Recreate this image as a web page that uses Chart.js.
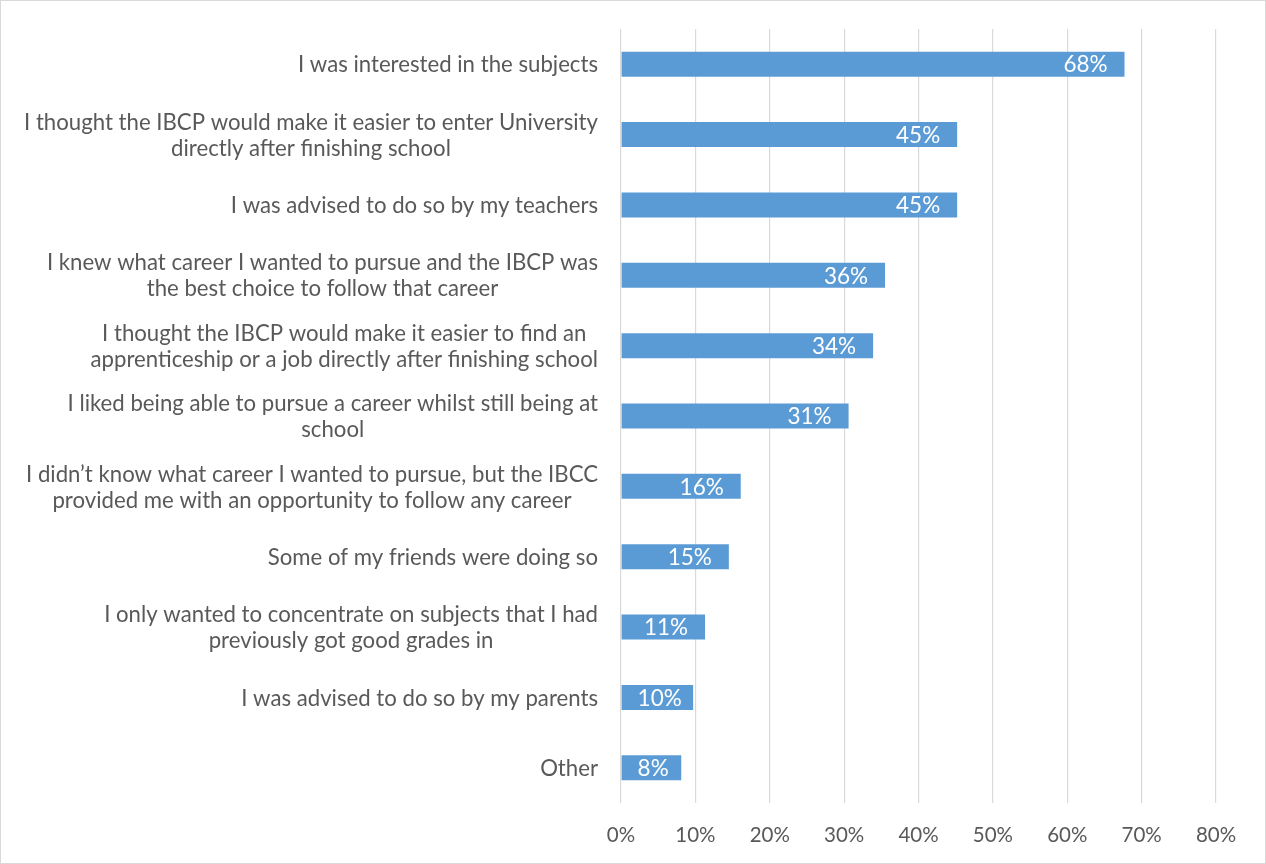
<!DOCTYPE html>
<html>
<head>
<meta charset="utf-8">
<script src="https://cdn.jsdelivr.net/npm/chart.js@4.4.1/dist/chart.umd.min.js"></script>
<style>
  html, body { margin: 0; padding: 0; background: #fff; }
  canvas { display: block; }
</style>
</head>
<body>
<canvas id="myChart" width="1266" height="864"></canvas>
<script>
// reasons, one array per label (lines)
const reasons = [
  ['I was interested in the subjects'],
  ['I thought the IBCP would make it easier to enter University', 'directly after finishing school'],
  ['I was advised to do so by my teachers'],
  ['I knew what career I wanted to pursue and the IBCP was', 'the best choice to follow that career'],
  ['I thought the IBCP would make it easier to find an', 'apprenticeship or a job directly after finishing school'],
  ['I liked being able to pursue a career whilst still being at', 'school'],
  ['I didn\u2019t know what career I wanted to pursue, but the IBCC', 'provided me with an opportunity to follow any career'],
  ['Some of my friends were doing so'],
  ['I only wanted to concentrate on subjects that I had', 'previously got good grades in'],
  ['I was advised to do so by my parents'],
  ['Other']
];
const percents = [67.7, 45.2, 45.2, 35.5, 33.9, 30.6, 16.1, 14.5, 11.3, 9.7, 8.1];
const percentLabels = ['68%', '45%', '45%', '36%', '34%', '31%', '16%', '15%', '11%', '10%', '8%'];

const textColor = '#595959';
const fontFamily = 'Lato, "Open Sans", sans-serif';

// white background + thin frame
const frame = {
  id: 'frame',
  beforeDraw(chart) {
    const c = chart.ctx;
    c.save();
    c.fillStyle = '#fff';
    c.fillRect(0, 0, chart.width, chart.height);
    c.strokeStyle = '#d9d9d9';
    c.lineWidth = 1;
    c.strokeRect(0.5, 0.5, chart.width - 1, chart.height - 1);
    c.restore();
  }
};

// category labels: block right aligned, lines centered inside the block
const reasonLabels = {
  id: 'reasonLabels',
  afterDraw(chart) {
    const c = chart.ctx;
    const y = chart.scales.y;
    const right = chart.chartArea.left - 23;
    c.save();
    c.font = '22.2px ' + fontFamily;
    c.fillStyle = textColor;
    c.textAlign = 'center';
    c.textBaseline = 'middle';
    reasons.forEach((lines, i) => {
      const w = Math.max(...lines.map(l => c.measureText(l).width));
      const cx = right - w / 2;
      const cy = y.getPixelForValue(i) + 1;
      lines.forEach((l, k) => {
        c.fillText(l, cx, cy + (k - (lines.length - 1) / 2) * 26);
      });
    });
    c.restore();
  }
};

// value labels inside the bar end
const valueLabels = {
  id: 'valueLabels',
  afterDatasetsDraw(chart) {
    const c = chart.ctx;
    const meta = chart.getDatasetMeta(0);
    c.save();
    c.font = '22.5px ' + fontFamily;
    c.fillStyle = '#fff';
    c.textAlign = 'right';
    c.textBaseline = 'middle';
    meta.data.forEach((bar, i) => {
      const t = percentLabels[i];
      const w = c.measureText(t).width;
      const x = Math.max(bar.x - 17, bar.base + 16 + w);
      c.fillText(t, x, bar.y + 1);
    });
    c.restore();
  }
};

const ctx = document.getElementById('myChart').getContext('2d');

const myChart = new Chart(ctx, {
  type: 'bar',
  data: {
    labels: reasons,
    datasets: [{
      data: percents,
      backgroundColor: '#5b9bd5',
      borderWidth: 0,
      categoryPercentage: 1,
      barPercentage: 0.355
    }]
  },
  options: {
    indexAxis: 'y',
    responsive: false,
    animation: false,
    layout: { padding: { left: 621, top: 29, right: 50, bottom: 0 } },
    plugins: {
      legend: { display: false },
      tooltip: { enabled: false }
    },
    scales: {
      x: {
        min: 0,
        max: 80,
        afterFit: s => { s.height = 61; },
        ticks: {
          stepSize: 10,
          padding: 20,
          color: textColor,
          font: { family: fontFamily, size: 20.5 },
          callback: v => v + '%'
        },
        grid: { color: '#d9d9d9', lineWidth: 1.2, drawTicks: false },
        border: { display: false }
      },
      y: {
        afterFit: s => { s.width = 0; },
        ticks: { display: false },
        grid: { display: false },
        border: { display: false }
      }
    }
  },
  plugins: [frame, reasonLabels, valueLabels]
});
</script>
</body>
</html>
